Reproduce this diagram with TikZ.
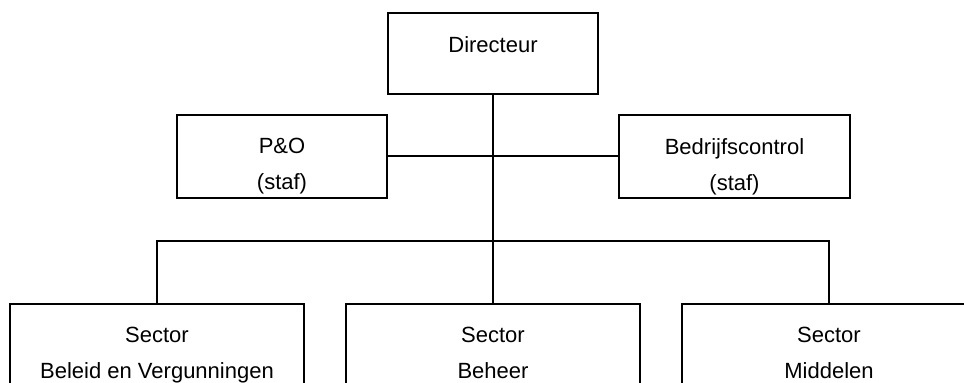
\documentclass[tikz,border=0pt]{standalone}
\usepackage{fontspec}
\setmainfont{Liberation Sans}
\usepackage{xcolor}
\definecolor{chartLine}{RGB}{0, 0, 0}

\begin{document}
\begin{tikzpicture}[x=0.5pt, y=-0.5pt]
    \tikzstyle{box} = [draw=chartLine, line width=1pt, inner sep=0pt]
    \tikzstyle{boxtext} = [anchor=north, inner sep=0pt, align=center, font=\fontsize{11}{18}\selectfont]
    \tikzstyle{link} = [draw=chartLine, line width=1pt]
    \useasboundingbox (0,0) rectangle (964,383);
    \clip (0,0) rectangle (964,383);
    % top
    \node[box, minimum width=105pt, minimum height=40.5pt] (dir) at (493,53.5) {};
    \node[boxtext] (dirtxt) at ([yshift=-12pt]dir.north) {Directeur};
    % staff
    \node[box, minimum width=105pt, minimum height=41.5pt] (po) at (282,156.5) {};
    \node[boxtext] (potxt) at ([yshift=-12pt]po.north) {P\&O\\(staf)};
    \node[box, minimum width=115.5pt, minimum height=41.5pt] (bc) at (734.5,156.5) {};
    \node[boxtext] (bctxt) at ([yshift=-12pt]bc.north) {Bedrijfscontrol\\(staf)};
    % sectors
    \node[box, minimum width=147pt, minimum height=58pt] (sbv) at (157,362) {};
    \node[boxtext] (sbvtxt) at ([yshift=-12pt]sbv.north) {Sector\\Beleid en Vergunningen};
    \node[box, minimum width=147pt, minimum height=58pt] (sbh) at (493,362) {};
    \node[boxtext] (sbhtxt) at ([yshift=-12pt]sbh.north) {Sector\\Beheer};
    \node[box, minimum width=147pt, minimum height=58pt] (smd) at (829,362) {};
    \node[boxtext] (smdtxt) at ([yshift=-12pt]smd.north) {Sector\\Middelen};
    % lines
    \coordinate (bus) at (493,241);
    \draw[link] (dir.south) -- (sbh.north);
    \draw[link] (po.east) -- (bc.west);
    \draw[link] (sbv.north) |- (bus) -| (smd.north);
\end{tikzpicture}
\end{document}
